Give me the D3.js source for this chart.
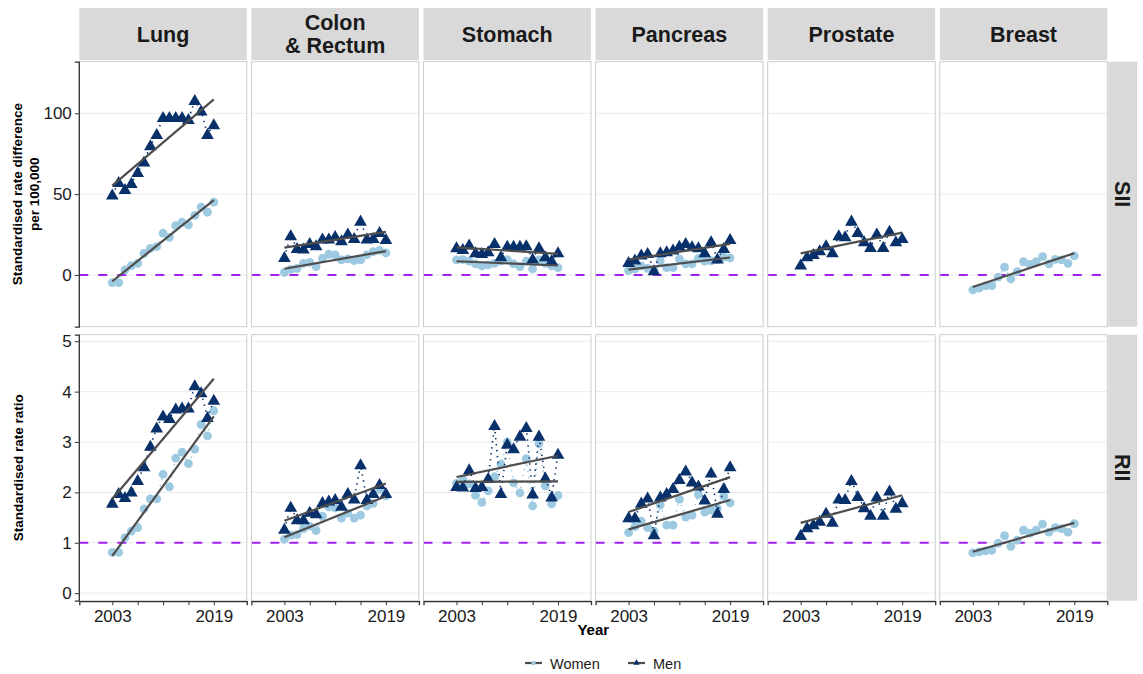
<!DOCTYPE html>
<html>
<head>
<meta charset="utf-8">
<script src="https://cdn.jsdelivr.net/npm/d3@7"></script>
<style>
  body { margin: 0; background: #fff; }
  text { font-family: "Liberation Sans", Arial, sans-serif; }
</style>
</head>
<body>
<svg id="chart" width="1143" height="674"></svg>
<script>
// values, one per year 2003..2019
const YEARS = [2003, 2004, 2005, 2006, 2007, 2008, 2009, 2010, 2011, 2012, 2013, 2014, 2015, 2016, 2017, 2018, 2019];
const CANCERS = ['Lung', 'Colon\n& Rectum', 'Stomach', 'Pancreas', 'Prostate', 'Breast'];
const METRICS = ['SII', 'RII'];
const SERIES = ['Women', 'Men'];
const X_TICKS = [2003, 2007, 2011, 2015, 2019];
const X_LABELS = ['2003', '', '', '', '2019'];
const SII_TICKS = [0, 50, 100];
const RII_TICKS = [0, 1, 2, 3, 4, 5];

// SII (standardised rate difference per 100,000)
const lungSiiWomen = [-4.7, -4.7, 3.1, 5.8, 7.2, 13.4, 16.5, 17.5, 25.8, 23.3, 30.5, 32.6, 30.9, 36.9, 42, 38.8, 45.1];
const lungSiiMen = [49.5, 57.3, 53, 56.7, 63.5, 70, 80, 87, 97.5, 97.5, 97.5, 97.5, 96.2, 108, 101.5, 87, 93];
const colonSiiWomen = [1.6, 3.5, 4.1, 7.2, 7.8, 5.2, 10.3, 12.8, 12.4, 9.3, 9.9, 8.9, 9.3, 12.4, 14.4, 15.2, 13.6];
const colonSiiMen = [10.9, 24.3, 16.5, 16.1, 19.6, 18.1, 22.3, 22.3, 23.9, 21.2, 25.4, 22.7, 33.4, 22.3, 22.7, 26.4, 22.1];
const stomachSiiWomen = [9.3, 9.5, 8.5, 6.8, 5.6, 6.2, 7.2, 8.5, 9.5, 6.8, 5.2, 8.5, 3.7, 9.3, 7.2, 5.6, 4.5];
const stomachSiiMen = [16.9, 15.9, 18.6, 13.8, 13.4, 14.4, 19.6, 11.3, 17.9, 17.9, 17.9, 18.1, 9.9, 16.9, 11.3, 8.9, 13.8];
const pancreasSiiWomen = [2.7, 3.7, 5.6, 4.1, 3.5, 8.7, 4.5, 4.5, 9.9, 6.8, 6.8, 10.3, 8.5, 8.7, 9.5, 11.1, 10.5];
const pancreasSiiMen = [7.8, 9.3, 12.4, 13.4, 2.7, 13.8, 14.4, 15.5, 17.9, 19.6, 17.5, 16.9, 13.8, 20.6, 9.9, 16.5, 22.1];
const prostateSiiMen = [6.2, 11.3, 12.8, 15.1, 18.1, 13.8, 24.3, 23.7, 33.4, 26.4, 20.6, 17.1, 25.4, 17.1, 27.2, 20.6, 22.7];
const breastSiiWomen = [-9.3, -8.2, -6.8, -6.6, -1.4, 4.8, -2.5, 2.1, 8.3, 6.6, 8.3, 11.3, 6.8, 9.7, 9.3, 7.2, 11.8];

// RII (standardised rate ratio)
const lungRiiWomen = [0.81, 0.81, 1.1, 1.23, 1.3, 1.67, 1.87, 1.87, 2.36, 2.11, 2.68, 2.8, 2.57, 2.86, 3.35, 3.12, 3.62];
const lungRiiMen = [1.79, 1.98, 1.9, 2.01, 2.24, 2.51, 2.92, 3.28, 3.52, 3.47, 3.66, 3.68, 3.68, 4.12, 3.98, 3.49, 3.83];
const colonRiiWomen = [1.07, 1.15, 1.16, 1.28, 1.33, 1.24, 1.53, 1.71, 1.69, 1.49, 1.59, 1.49, 1.55, 1.73, 1.78, 2.06, 1.93];
const colonRiiMen = [1.27, 1.71, 1.46, 1.46, 1.61, 1.58, 1.8, 1.83, 1.86, 1.73, 1.98, 1.87, 2.55, 1.86, 1.98, 2.16, 1.98];
const stomachRiiWomen = [2.18, 2.26, 2.17, 1.94, 1.8, 2.03, 2.31, 2.56, 3.0, 2.19, 1.99, 2.67, 1.73, 2.97, 2.13, 1.77, 1.94];
const stomachRiiMen = [2.12, 2.11, 2.45, 2.1, 2.12, 2.28, 3.33, 1.98, 2.96, 2.87, 3.12, 3.29, 1.97, 3.12, 2.29, 1.91, 2.76];
const pancreasRiiWomen = [1.2, 1.32, 1.43, 1.3, 1.23, 1.75, 1.35, 1.35, 1.86, 1.51, 1.55, 1.96, 1.61, 1.65, 1.68, 1.92, 1.79];
const pancreasRiiMen = [1.5, 1.5, 1.79, 1.89, 1.16, 1.91, 1.98, 2.08, 2.26, 2.43, 2.21, 2.13, 1.85, 2.39, 1.59, 2.08, 2.51];
const prostateRiiMen = [1.15, 1.3, 1.36, 1.43, 1.59, 1.41, 1.87, 1.86, 2.24, 1.92, 1.7, 1.55, 1.91, 1.55, 2.03, 1.69, 1.8];
const breastRiiWomen = [0.8, 0.82, 0.84, 0.85, 0.99, 1.14, 0.93, 1.05, 1.25, 1.19, 1.25, 1.37, 1.21, 1.3, 1.28, 1.21, 1.38];

// [metric][cancer] -> {Women, Men}
const panelData = [
  [
    { Women: lungSiiWomen, Men: lungSiiMen },
    { Women: colonSiiWomen, Men: colonSiiMen },
    { Women: stomachSiiWomen, Men: stomachSiiMen },
    { Women: pancreasSiiWomen, Men: pancreasSiiMen },
    { Women: null, Men: prostateSiiMen },
    { Women: breastSiiWomen, Men: null }
  ],
  [
    { Women: lungRiiWomen, Men: lungRiiMen },
    { Women: colonRiiWomen, Men: colonRiiMen },
    { Women: stomachRiiWomen, Men: stomachRiiMen },
    { Women: pancreasRiiWomen, Men: pancreasRiiMen },
    { Women: null, Men: prostateRiiMen },
    { Women: breastRiiWomen, Men: null }
  ]
];

const COLORS = { Women: '#9ecae1', Men: '#08306b' };
const REF_LINE = [0, 1]; // no-inequality line per metric

const svg = d3.select('#chart');
const LEFT = 79.3;
const PANEL_W = 167.5;
const STEP = 172.1;
const ROWS = [{ top: 61.7, bottom: 326.7 }, { top: 334.7, bottom: 600.7 }];
const STRIP_TOP = 8;

const xScale = d3.scaleLinear().domain([1997.8, 2024.2]).range([0, PANEL_W]);
const yScales = [
  d3.scaleLinear().domain([-32, 131.9]).range([ROWS[0].bottom, ROWS[0].top]),
  d3.scaleLinear().domain([-0.15, 5.13]).range([ROWS[1].bottom, ROWS[1].top])
];
const yTicks = [SII_TICKS, RII_TICKS];

function linearFit(xs, ys) {
  const mx = d3.mean(xs), my = d3.mean(ys);
  const num = d3.sum(xs, (x, i) => (x - mx) * (ys[i] - my));
  const den = d3.sum(xs, (x) => (x - mx) * (x - mx));
  const b = num / den;
  return (x) => my + b * (x - mx);
}

const triangle = d3.symbol().type(d3.symbolTriangle).size(70);

// column strips
CANCERS.forEach((name, c) => {
  const x0 = LEFT + c * STEP;
  svg.append('rect').attr('x', x0).attr('y', STRIP_TOP).attr('width', PANEL_W)
    .attr('height', ROWS[0].top - 1.5 - STRIP_TOP).attr('fill', '#d9d9d9');
  const lines = name.split('\n');
  const midY = (STRIP_TOP + ROWS[0].top - 1.5) / 2;
  const t = svg.append('text').attr('x', x0 + PANEL_W / 2).attr('text-anchor', 'middle')
    .attr('font-size', 21.5).attr('font-weight', 'bold').attr('fill', '#1a1a1a');
  lines.forEach((l, i) => {
    t.append('tspan').attr('x', x0 + PANEL_W / 2)
      .attr('y', midY + 7.5 + (i - (lines.length - 1) / 2) * 22.5).text(l);
  });
});

// row strips
METRICS.forEach((m, r) => {
  const x0 = LEFT + 5 * STEP + PANEL_W + 1;
  svg.append('rect').attr('x', x0).attr('y', ROWS[r].top).attr('width', 29)
    .attr('height', ROWS[r].bottom - ROWS[r].top).attr('fill', '#d9d9d9');
  const cy = (ROWS[r].top + ROWS[r].bottom) / 2;
  svg.append('text').attr('transform', `translate(${x0 + 14.5 - 7.5},${cy}) rotate(90)`)
    .attr('text-anchor', 'middle').attr('font-size', 21.5).attr('font-weight', 'bold')
    .attr('fill', '#1a1a1a').text(m);
});

METRICS.forEach((m, r) => {
  const y = yScales[r];
  CANCERS.forEach((name, c) => {
    const x0 = LEFT + c * STEP;
    const g = svg.append('g').attr('transform', `translate(${x0},0)`);
    g.append('rect').attr('x', 0).attr('y', ROWS[r].top).attr('width', PANEL_W)
      .attr('height', ROWS[r].bottom - ROWS[r].top).attr('fill', '#fff');
    g.selectAll('line.grid').data(yTicks[r]).enter().append('line')
      .attr('x1', 0).attr('x2', PANEL_W).attr('y1', (d) => y(d)).attr('y2', (d) => y(d))
      .attr('stroke', '#ebebeb').attr('stroke-width', 1);
    g.append('line').attr('x1', 0).attr('x2', PANEL_W)
      .attr('y1', y(REF_LINE[r])).attr('y2', y(REF_LINE[r]))
      .attr('stroke', '#a020f0').attr('stroke-width', 2).attr('stroke-dasharray', '9,10');

    const d = panelData[r][c];
    SERIES.forEach((s) => {
      const vals = d[s];
      if (!vals) return;
      const pts = YEARS.map((yr, i) => [yr, vals[i]]);
      g.append('path').datum(pts)
        .attr('d', d3.line().x((p) => xScale(p[0])).y((p) => y(p[1])))
        .attr('fill', 'none').attr('stroke', COLORS[s]).attr('stroke-width', 1.6)
        .attr('stroke-dasharray', '1.4,4.6');
      if (s === 'Women') {
        g.selectAll(null).data(pts).enter().append('circle')
          .attr('cx', (p) => xScale(p[0])).attr('cy', (p) => y(p[1])).attr('r', 4.4)
          .attr('fill', COLORS[s]);
      } else {
        g.selectAll(null).data(pts).enter().append('path')
          .attr('d', triangle)
          .attr('transform', (p) => `translate(${xScale(p[0])},${y(p[1]) + 1})`)
          .attr('fill', COLORS[s]);
      }
    });
    SERIES.forEach((s) => {
      const vals = d[s];
      if (!vals) return;
      const f = linearFit(YEARS, vals);
      const ends = [YEARS[0], YEARS[YEARS.length - 1]];
      g.append('line')
        .attr('x1', xScale(ends[0])).attr('y1', y(f(ends[0])))
        .attr('x2', xScale(ends[1])).attr('y2', y(f(ends[1])))
        .attr('stroke', '#4d4d4d').attr('stroke-width', 2.2);
    });

    g.append('rect').attr('x', 0).attr('y', ROWS[r].top).attr('width', PANEL_W)
      .attr('height', ROWS[r].bottom - ROWS[r].top).attr('fill', 'none')
      .attr('stroke', '#cccccc').attr('stroke-width', 1);

    if (r === 1) {
      const xAxis = d3.axisBottom(xScale).tickValues(X_TICKS)
        .tickFormat((v, i) => X_LABELS[i]).tickSizeOuter(0).tickSize(4);
      const ax = g.append('g').attr('transform', `translate(0,${ROWS[1].bottom + 0.5})`).call(xAxis);
      ax.select('.domain').attr('stroke', '#333').attr('stroke-width', 1.3);
      ax.selectAll('.tick line').attr('stroke', '#333');
      ax.selectAll('text').attr('font-size', 17).attr('fill', '#1a1a1a').attr('dy', '0.8em')
        .style('font-family', '"Liberation Sans", Arial, sans-serif');
    }
    if (c === 0) {
      const yAxis = d3.axisLeft(y).tickValues(yTicks[r]).tickFormat(d3.format('d'))
        .tickSizeOuter(0).tickSize(4);
      const ay = g.append('g').attr('transform', 'translate(-0.5,0)').call(yAxis);
      ay.select('.domain').attr('stroke', '#333').attr('stroke-width', 1.3);
      ay.selectAll('.tick line').attr('stroke', '#333');
      ay.selectAll('text').attr('font-size', 17).attr('fill', '#1a1a1a')
        .style('font-family', '"Liberation Sans", Arial, sans-serif');
    }
  });
});

// axis titles
const rowMid = ROWS.map((r) => (r.top + r.bottom) / 2);
svg.append('text').attr('transform', `translate(25,${rowMid[0]}) rotate(-90)`)
  .attr('text-anchor', 'middle').attr('font-size', 13.5).attr('font-weight', 'bold').attr('fill', '#000')
  .call((t) => {
    t.append('tspan').attr('x', 0).attr('dy', '-0.25em').text('Standardised rate difference');
    t.append('tspan').attr('x', 0).attr('dy', '1.3em').text('per 100,000');
  });
svg.append('text').attr('transform', `translate(23,${rowMid[1]}) rotate(-90)`)
  .attr('text-anchor', 'middle').attr('font-size', 13.5).attr('font-weight', 'bold').attr('fill', '#000')
  .text('Standardised rate ratio');
svg.append('text').attr('x', LEFT + (5 * STEP + PANEL_W) / 2).attr('y', 635)
  .attr('text-anchor', 'middle').attr('font-size', 15).attr('font-weight', 'bold').attr('fill', '#000')
  .text('Year');

// legend
const legendX = [525, 628];
SERIES.forEach((s, i) => {
  const lg = svg.append('g').attr('transform', `translate(${legendX[i]},663)`);
  lg.append('line').attr('x1', 0).attr('x2', 17).attr('y1', 0).attr('y2', 0)
    .attr('stroke', '#4d4d4d').attr('stroke-width', 2.2);
  if (s === 'Women') {
    lg.append('circle').attr('cx', 8.5).attr('cy', 0).attr('r', 2.2).attr('fill', COLORS[s]);
  } else {
    lg.append('path').attr('d', d3.symbol().type(d3.symbolTriangle).size(18))
      .attr('transform', 'translate(8.5,0)').attr('fill', COLORS[s]);
  }
  lg.append('text').attr('x', 25).attr('y', 5.5).attr('font-size', 14.5).attr('fill', '#1a1a1a').text(s);
});
</script>
</body>
</html>
